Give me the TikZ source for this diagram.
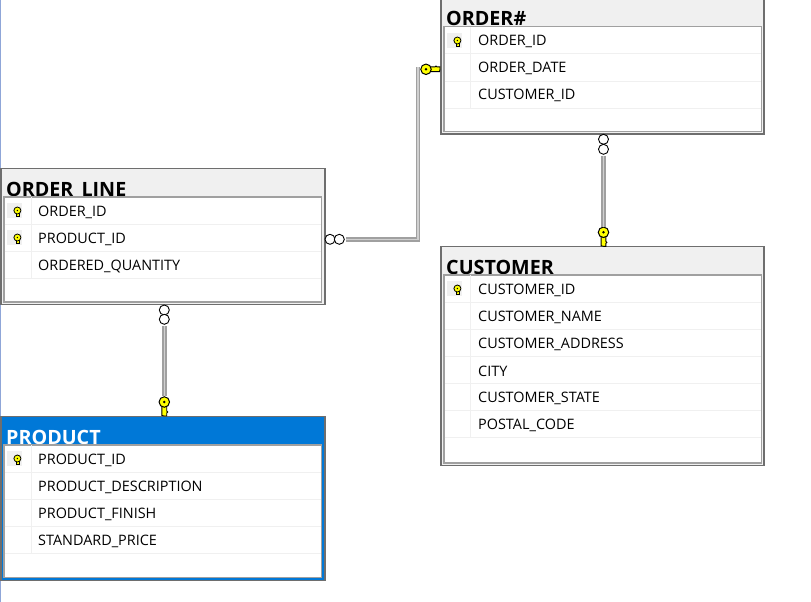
\documentclass[tikz,border=0pt]{standalone}
\usepackage{fontspec}
\setmainfont{Open Sans}
\definecolor{boxgray}{HTML}{6E6E6E}
\definecolor{innergray}{HTML}{A0A0A0}
\definecolor{headgray}{HTML}{F0F0F0}
\definecolor{selectblue}{HTML}{0078D7}
\definecolor{keyyellow}{HTML}{FFFF00}
\definecolor{edgeblue}{HTML}{8FA6D8}
\tikzset{
  tablebox/.style={draw=boxgray, fill=headgray, line width=1.1pt, anchor=north west, inner sep=0pt, outer sep=0pt},
  rowbox/.style={draw=innergray, fill=white, line width=1.3pt, anchor=north west, inner sep=0pt, outer sep=0pt},
  tabletitle/.style={anchor=base west, inner sep=0pt, font=\fontsize{19.7}{20}\bfseries\selectfont, text=black},
  rowlabel/.style={anchor=west, inner sep=0pt, font=\fontsize{14.4}{15}\selectfont, text=black},
  rowline/.style={draw=headgray, line width=1pt},
  keycell/.style={fill=headgray, anchor=north west, minimum size=15pt, inner sep=0pt},
  keyhead/.style={circle, draw=black, fill=keyyellow, line width=1pt, minimum size=10.5pt, inner sep=0pt,
    path picture={\fill[black] (path picture bounding box.center) circle (1.4pt);}},
  smallkey/.style={circle, draw=black, fill=keyyellow, line width=0.8pt, minimum size=7pt, inner sep=0pt,
    path picture={\fill[black] (path picture bounding box.center) circle (0.8pt);}},
  manyend/.style={circle, draw=black, fill=white, line width=0.9pt, minimum size=10pt, inner sep=0pt},
  linkbase/.style={draw=innergray, line width=4.4pt},
  linkshade/.style={draw=boxgray, line width=1.4pt, shift={(1.4,1.4)}},
  linklight/.style={draw=headgray!60!innergray, line width=1.4pt},
  keyshaft/.pic={\fill[keyyellow, draw=black, line width=0.9pt] (-2.4,0) -- (-2.4,13.5) -- (0,14) -- (2.4,14) -- (2.4,11) -- (3.4,10) -- (2.4,9) -- (2.4,0) -- cycle;},
  tinyshaft/.pic={\fill[keyyellow, draw=black, line width=0.7pt] (-1.2,0) -- (-1.2,6) -- (1.8,6) -- (1.8,0) -- cycle;},
}
% name, x, y, width, height, title
\newcommand{\dbtable}[7][]{
  \node[tablebox, minimum width=#5pt, minimum height=#6pt, #1] (#2) at (#3,#4) {};
  \node[tabletitle, #1] (#2-title) at ({#3+5},{#4+27.5}) {#7};
}
% name, x, y, height of the white part, list of rows
\newcommand{\dbrows}[5]{
  \node[rowbox, minimum width=317.5pt, minimum height=#4pt] (#1-rows) at ({#2+3},{#3+28.5}) {};
  \foreach \rowtext [count=\rownum] in {#5} {
    \node[rowlabel] (#1-\rownum) at ({#2+37},{#3+16.6+27*\rownum}) {\rowtext};
    \draw[rowline] ({#2+3.8},{#3+29+27*\rownum}) -- ({#2+320},{#3+29+27*\rownum});
  }
}
% name, x, y of the row
\newcommand{\dbkey}[3]{
  \node[keycell] (#1-cell) at ({#2+3},{#3+6}) {};
  \pic at ({#2+13.4},{#3+13.5}) {tinyshaft};
  \node[smallkey] (#1) at ({#2+13.4},{#3+13.5}) {};
}
\begin{document}
\begin{tikzpicture}[x=1pt, y=-1pt]
\useasboundingbox (0,0) rectangle (811,602);
\draw[edgeblue, line width=2.6pt] (0,0) -- (0,602);

\dbtable{order}{441}{-2}{323}{136}{ORDER\#}
\dbrows{order}{441}{-2}{105}{ORDER\_ID,ORDER\_DATE,CUSTOMER\_ID}
\draw[rowline] (470,27) -- (470,108);
\dbkey{orderpk}{444}{27}

\dbtable{orderline}{1}{168.5}{324}{136}{ORDER\_LINE}
\dbrows{orderline}{1}{168.5}{105}{ORDER\_ID,PRODUCT\_ID,ORDERED\_QUANTITY}
\draw[rowline] (31,197) -- (31,278);
\dbkey{orderlinepk}{4}{197}
\dbkey{orderlinefk}{4}{224}

\dbtable{customer}{441}{246.5}{323}{219}{CUSTOMER}
\dbrows{customer}{441}{246.5}{188}{CUSTOMER\_ID,CUSTOMER\_NAME,CUSTOMER\_ADDRESS,CITY,CUSTOMER\_STATE,POSTAL\_CODE}
\draw[rowline] (470,275) -- (470,437);
\dbkey{customerpk}{444}{275}

\dbtable[fill=selectblue, text=white]{product}{1}{416.5}{324}{164}{PRODUCT}
\dbrows{product}{1}{416.5}{132.5}{PRODUCT\_ID,PRODUCT\_DESCRIPTION,PRODUCT\_FINISH,STANDARD\_PRICE}
\draw[rowline] (31,445) -- (31,553);
\dbkey{productpk}{4}{445}

% order line to order
\node[manyend] (linemany) at (330,239.3) {};
\node[manyend] (linemanyb) at (339.3,239.3) {};
\pic[rotate=90] at (426,69.3) {keyshaft};
\node[keyhead] (orderkey) at (426,69.3) {};
\foreach \linkstyle in {linkbase,linkshade,linklight}
  \draw[\linkstyle] ([xshift=1.5pt]linemanyb.east) -| ([xshift=-2.2pt,yshift=2.3pt]orderkey.west);

% order to customer
\node[manyend] (ordermany) at (603.5,139.3) {};
\node[manyend] (ordermanyb) at (603.5,149.3) {};
\pic at (603.5,232.3) {keyshaft};
\node[keyhead] (customerkey) at (603.5,232.3) {};
\foreach \linkstyle in {linkbase,linkshade,linklight}
  \draw[\linkstyle] ([yshift=-1pt]ordermanyb.south) -- (customerkey.north);

% order line to product
\node[manyend] (productmany) at (164.3,310) {};
\node[manyend] (productmanyb) at (164.3,319.3) {};
\pic at (164.3,402) {keyshaft};
\node[keyhead] (productkey) at (164.3,402) {};
\foreach \linkstyle in {linkbase,linkshade,linklight}
  \draw[\linkstyle] ([yshift=-1pt]productmanyb.south) -- (productkey.north);
\end{tikzpicture}
\end{document}
